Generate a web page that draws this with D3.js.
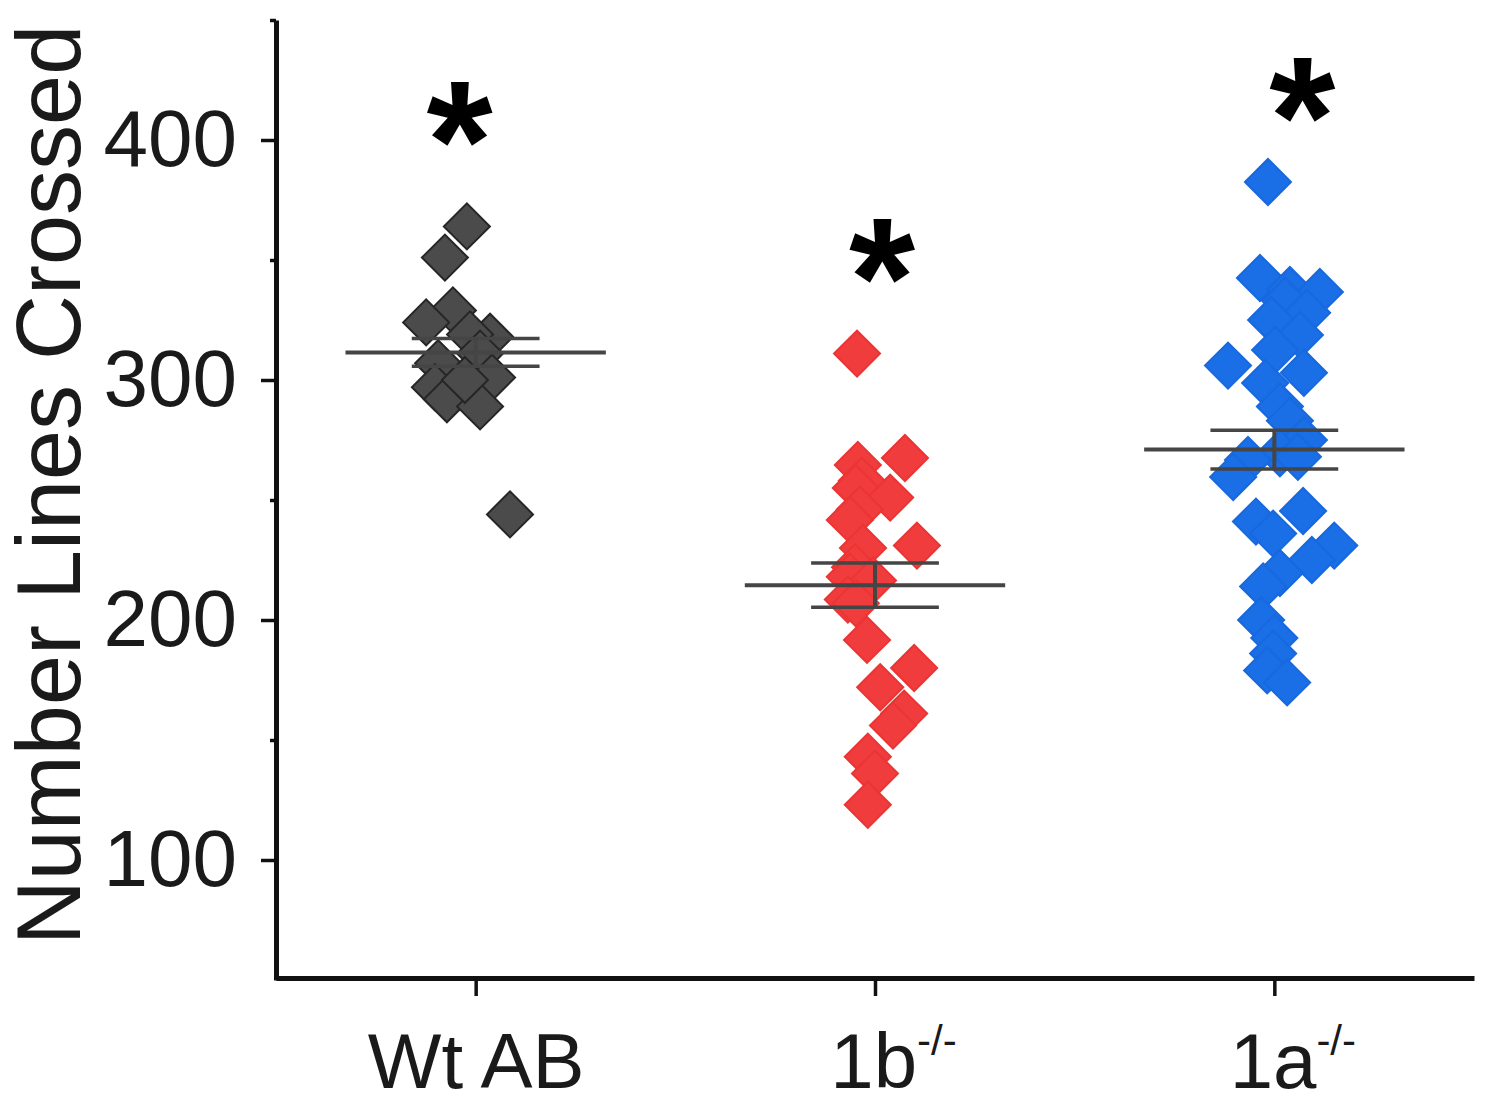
<!DOCTYPE html>
<html>
<head>
<meta charset="utf-8">
<script src="https://cdn.jsdelivr.net/npm/d3@7/dist/d3.min.js"></script>
<style>
  html, body { margin: 0; padding: 0; background: #fff; }
  svg { display: block; }
  text { font-family: "Liberation Sans", Arial, Helvetica, sans-serif; }
</style>
</head>
<body>
<svg id="chart" width="1500" height="1107"></svg>
<script>
// ---------------- DATA ----------------
const categories   = ["Wt AB", "1b", "1a"];
const superscripts = ["", "-/-", "-/-"];

// Wt AB
const wtValues = [364, 351, 329, 324, 318, 319, 311, 301, 307, 297, 292, 289, 300, 244];
const wtJitter = [-0.022, -0.077, -0.057, -0.124, 0.036, -0.014, 0.011, 0.041, -0.094, -0.102, -0.072, 0.011, -0.027, 0.086];

// 1b -/-
const koBValues = [311, 267.5, 264.6, 258, 255, 251, 246, 241.7, 231, 230, 222, 218, 216.5, 208.5, 207, 191.7, 180, 172, 161, 156, 143, 136, 123];
const koBJitter = [-0.045, 0.075, -0.043, -0.033, -0.048, 0.038, -0.038, -0.063, 0.105, -0.030, -0.050, -0.063, -0.005, -0.068, -0.048, -0.020, 0.098, 0.013, 0.073, 0.045, -0.018, 0.0, -0.018];

// 1a -/-
const koAValues = [382.5, 342.5, 337.5, 336.7, 333, 328, 325, 318.75, 312.5, 306, 303, 298.7, 289, 283, 275, 269.5, 268, 266.7, 259.6, 245.4, 241, 236, 231, 225, 219.6, 214, 200, 192.5, 186, 179, 174];
const koAJitter = [-0.016, -0.036, 0.039, 0.114, 0.027, 0.082, -0.008, 0.064, 0.002, -0.116, 0.074, -0.023, 0.014, 0.039, 0.074, 0.014, 0.059, -0.066, -0.103, 0.072, -0.046, -0.003, 0.150, 0.094, 0.014, -0.028, -0.033, 0.0, -0.003, -0.018, 0.032];

// mean and SEM per group
const means = [311.5, 214.5, 271];
const sems  = [5.8, 9.2, 8.1];

// significance marks
const sigMarks   = ["*", "*", "*"];
const sigValues  = [409, 352, 419];
const sigJitter  = [-0.04, 0.018, 0.07];

// axis ticks
const yTicks      = [100, 200, 300, 400];
const yMinorTicks = [150, 250, 350, 450];
const yTitle = "Number Lines Crossed";

// ---------------- STYLE ----------------
const fills   = ["#4b4b4b", "#f03c3c", "#1a6ee6"];
const strokes = ["#262626", "#ec3434", "#1868de"];
const barColor = "#454545";

// ---------------- CHART ----------------
const svg = d3.select("#chart");

const x = d3.scaleLinear().domain([-0.5, 2.5]).range([276, 1474]);
const y = d3.scaleLinear().domain([50, 450]).range([980, 20]);

const groups = [
  { values: wtValues,  jitter: wtJitter },
  { values: koBValues, jitter: koBJitter },
  { values: koAValues, jitter: koAJitter }
];

// points
const diamond = d3.symbol().type(d3.symbolSquare).size(1060)();
groups.forEach((g, gi) => {
  svg.append("g")
    .selectAll("path")
    .data(g.values.map((v, i) => ({ v, j: g.jitter[i] })))
    .join("path")
    .attr("d", diamond)
    .attr("transform", d => `translate(${x(gi + d.j)},${y(d.v)}) rotate(45)`)
    .attr("fill", fills[gi])
    .attr("stroke", strokes[gi])
    .attr("stroke-width", 2);
});

// mean +- SEM
const meanHalf = 0.326, capHalf = 0.16;
const eb = svg.append("g").attr("stroke", barColor).attr("fill", "none");
means.forEach((m, i) => {
  eb.append("line")
    .attr("x1", x(i - meanHalf)).attr("x2", x(i + meanHalf))
    .attr("y1", y(m)).attr("y2", y(m))
    .attr("stroke-width", 4);
  [m + sems[i], m - sems[i]].forEach(v => {
    eb.append("line")
      .attr("x1", x(i - capHalf)).attr("x2", x(i + capHalf))
      .attr("y1", y(v)).attr("y2", y(v))
      .attr("stroke-width", 3.5);
  });
  eb.append("line")
    .attr("x1", x(i)).attr("x2", x(i))
    .attr("y1", y(m + sems[i])).attr("y2", y(m - sems[i]))
    .attr("stroke-width", 4);
});

// significance asterisks
svg.append("g")
  .selectAll("text")
  .data(sigMarks)
  .join("text")
  .attr("x", (d, i) => x(i + sigJitter[i]))
  .attr("y", (d, i) => y(sigValues[i]))
  .attr("dy", "0.48em")
  .attr("text-anchor", "middle")
  .attr("font-size", 170)
  .attr("font-weight", "bold")
  .attr("fill", "#000")
  .text(d => d);

// y axis
const yAxis = svg.append("g")
  .attr("transform", `translate(${x(-0.5)},0)`)
  .call(d3.axisLeft(y).tickValues(yTicks).tickSize(15).tickSizeOuter(0).tickPadding(24));
yAxis.select(".domain").attr("stroke", "#111").attr("stroke-width", 5);
yAxis.selectAll(".tick line").attr("stroke", "#111").attr("stroke-width", 3.5);
yAxis.selectAll(".tick text").attr("font-size", 80).attr("fill", "#1a1a1a")
  .style("font-family", '"Liberation Sans", Arial, sans-serif');

const yMinor = svg.append("g")
  .attr("transform", `translate(${x(-0.5)},0)`)
  .call(d3.axisLeft(y).tickValues(yMinorTicks).tickSize(6).tickFormat(""));
yMinor.select(".domain").remove();
yMinor.selectAll(".tick line").attr("stroke", "#111").attr("stroke-width", 3.5);

// x axis
const xAxis = svg.append("g")
  .attr("transform", `translate(0,${y(50) - 2})`)
  .call(d3.axisBottom(x).tickValues([0, 1, 2]).tickSize(18).tickSizeOuter(0).tickPadding(37)
        .tickFormat(i => categories[i]));
xAxis.select(".domain").attr("stroke", "#111").attr("stroke-width", 5);
xAxis.selectAll(".tick line").attr("stroke", "#111").attr("stroke-width", 3.5);
xAxis.selectAll(".tick text")
  .attr("font-size", 78).attr("fill", "#1a1a1a")
  .style("font-family", '"Liberation Sans", Arial, sans-serif')
  .each(function(i) {
    const t = d3.select(this);
    if (superscripts[i]) {
      t.text(null).attr("text-anchor", "start");
      t.append("tspan").text(categories[i]);
      t.append("tspan").attr("font-size", 42).attr("dy", "-0.8em").text(superscripts[i]);
      const w = this.getComputedTextLength();
      t.attr("x", -w / 2 + 18);
    }
  });

// y title
svg.append("text")
  .attr("transform", `translate(80,485) rotate(-90)`)
  .attr("text-anchor", "middle")
  .attr("font-size", 90)
  .attr("fill", "#1a1a1a")
  .text(yTitle);
</script>
</body>
</html>
